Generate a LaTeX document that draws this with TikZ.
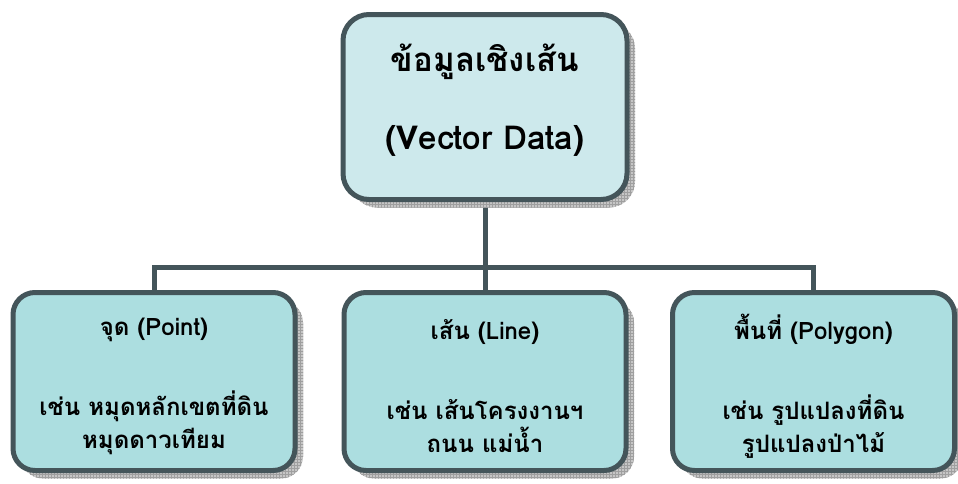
\documentclass[tikz,border=0pt]{standalone}
\usepackage{fontspec}
\newfontfamily\thaifont[Script=Thai]{Loma}
\usetikzlibrary{patterns,backgrounds}
\definecolor{edge}{HTML}{44555A}
\definecolor{topfill}{HTML}{CDE9EC}
\definecolor{boxfill}{HTML}{ACDEE0}
\begin{document}
\begin{tikzpicture}[x=1pt,y=-1pt,
  shadowed/.style={
    preaction={fill=gray!45, transform canvas={shift={(8pt,-8pt)}}},
    preaction={pattern=grid, pattern color=gray!75, transform canvas={shift={(8pt,-8pt)}}}},
  topbox/.style={shadowed, draw=edge, fill=topfill, line width=5pt, rounded corners=26pt,
    minimum width=284pt, minimum height=185pt, inner sep=0pt},
  leafbox/.style={shadowed, draw=edge, fill=boxfill, line width=5pt, rounded corners=22pt,
    minimum width=282pt, minimum height=178pt, inner sep=0pt},
  toptext/.style={align=center, inner sep=0pt, font=\thaifont\bfseries\fontsize{33}{40}\selectfont},
  leaftext/.style={align=center, inner sep=0pt, font=\thaifont\bfseries\fontsize{24}{33}\selectfont},
  link/.style={draw=edge, line width=5pt}]
\useasboundingbox (0,0) rectangle (958,483);
\node[topbox] (top) at (485,107) {};
\node[leafbox] (b1) at (154,381.5) {};
\node[leafbox] (b2) at (485,381.5) {};
\node[leafbox] (b3) at (813.5,381.5) {};
\node[toptext] (toplabel) at ([yshift=7pt]top.center) {ข้อมูลเชิงเส้น\\[38pt](Vector Data)};
\node[leaftext] (b1label) at ([yshift=-5pt]b1.center) {จุด (Point)\\[47pt]เช่น หมุดหลักเขตที่ดิน\\หมุดดาวเทียม};
\node[leaftext] (b2label) at ([yshift=-5pt]b2.center) {เส้น (Line)\\[47pt]เช่น เส้นโครงงานฯ\\ถนน แม่น้ำ};
\node[leaftext] (b3label) at ([yshift=-5pt]b3.center) {พื้นที่ (Polygon)\\[47pt]เช่น รูปแปลงที่ดิน\\รูปแปลงป่าไม้};
\coordinate (bar) at (485,267);
\begin{scope}[on background layer]
\draw[link] (top.south) -- (bar);
\draw[link] (b1.north) -- (b1.north |- bar) -- (b3.north |- bar) -- (b3.north);
\draw[link] (bar) -- (b2.north);
\end{scope}
\end{tikzpicture}
\end{document}
